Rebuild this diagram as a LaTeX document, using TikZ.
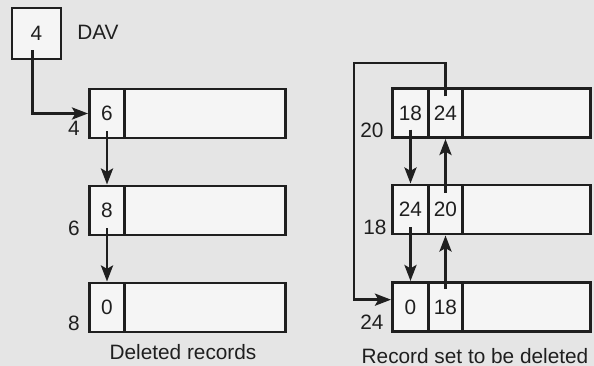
\documentclass[tikz,border=0pt]{standalone}
\usepackage{fontspec}
\setmainfont{Liberation Sans}
\usetikzlibrary{arrows.meta}
\newdimen\pxu \pxu=0.75pt
\begin{document}
\begin{tikzpicture}[x=0.75pt,y=-0.75pt,
  font=\fontsize{15.6pt}{18pt}\selectfont,
  ln/.style={line width=2.2pt,draw=black!88},
  cell/.style={ln,fill=white!96!black,rectangle,inner sep=0pt,minimum height=49\pxu,text=black!88},
  arr/.style={ln,-{Stealth[length=12pt,width=9pt,inset=2.5pt]}},
  lbl/.style={inner sep=0pt,text=black!88}]
\fill[black!10] (0,0) rectangle (594,366);
\useasboundingbox (0,0) rectangle (594,366);
% DAV
\node[cell,minimum width=49\pxu,minimum height=51\pxu] (dav) at (36.5,33.5) {4};
\node[lbl,anchor=west] (davl) at (77,32) {DAV};
% left records
\node[cell,minimum width=35\pxu] (l1a) at (107,113.5) {6};
\node[cell,minimum width=161\pxu] (l1b) at (205,113.5) {};
\node[cell,minimum width=35\pxu] (l2a) at (107,210.5) {8};
\node[cell,minimum width=161\pxu] (l2b) at (205,210.5) {};
\node[cell,minimum width=35\pxu] (l3a) at (107,307.5) {0};
\node[cell,minimum width=161\pxu] (l3b) at (205,307.5) {};
\node[lbl] (n4) at (74,128) {4};
\node[lbl] (n6) at (74,228) {6};
\node[lbl] (n8) at (74,323) {8};
\node[lbl] (capl) at (183,352) {Deleted records};
% right records
\node[cell,minimum width=36\pxu] (r1a) at (410.5,113) {18};
\node[cell,minimum width=34\pxu] (r1b) at (445.5,113) {24};
\node[cell,minimum width=128\pxu] (r1c) at (526.5,113) {};
\node[cell,minimum width=36\pxu] (r2a) at (410.5,209.5) {24};
\node[cell,minimum width=34\pxu] (r2b) at (445.5,209.5) {20};
\node[cell,minimum width=128\pxu] (r2c) at (526.5,209.5) {};
\node[cell,minimum width=36\pxu] (r3a) at (410.5,307) {0};
\node[cell,minimum width=34\pxu] (r3b) at (445.5,307) {18};
\node[cell,minimum width=128\pxu] (r3c) at (526.5,307) {};
\node[lbl] (n20) at (372,130) {20};
\node[lbl] (n18) at (375,227) {18};
\node[lbl] (n24) at (372,322) {24};
\node[lbl] (capr) at (475,356) {Record set to be deleted};
% connectors left
\draw[arr] ([xshift=-3pt,yshift=7.5pt]dav.south) |- (l1a.west);
\draw[arr] ([yshift=6pt]l1a.south) -- (l2a.north);
\draw[arr] ([yshift=6pt]l2a.south) -- (l3a.north);
% connectors right
\coordinate (lc) at (354,63);
\draw[arr] ([yshift=-7pt]r1b.north) |- (lc) |- ([yshift=5.5pt]r3a.west);
\draw[arr] ([yshift=7pt]r1a.south) -- (r2a.north);
\draw[arr] ([yshift=6pt]r2a.south) -- (r3a.north);
\draw[arr] ([yshift=-7pt]r2b.north) -- (r1b.south);
\draw[arr] ([yshift=-6pt]r3b.north) -- (r2b.south);
\end{tikzpicture}
\end{document}
